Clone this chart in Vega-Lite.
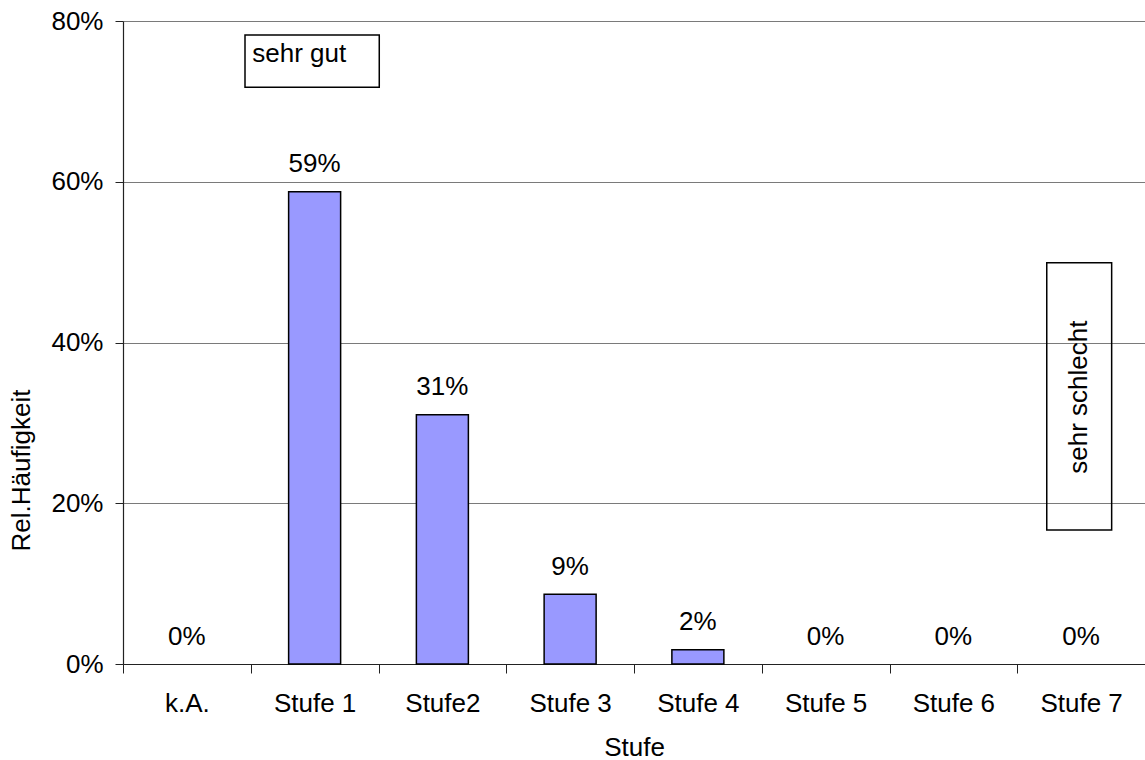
{
  "$schema": "https://vega.github.io/schema/vega-lite/v6.json",
  "width": 1022,
  "height": 643,
  "autosize": "none",
  "padding": {"left": 123, "top": 21, "right": 0, "bottom": 96},
  "background": "#ffffff",
  "config": {
    "font": "Liberation Sans",
    "view": {"stroke": null},
    "axis": {
      "labelFont": "Liberation Sans",
      "titleFont": "Liberation Sans",
      "labelFontSize": 26,
      "titleFontSize": 26,
      "titleFontWeight": "normal",
      "labelColor": "#000000",
      "titleColor": "#000000",
      "domainColor": "#222222",
      "domainWidth": 1.2,
      "tickColor": "#222222",
      "tickWidth": 1
    }
  },
  "layer": [
    {
      "data": {
        "values": [
          {"stufe": "k.A.", "anteil": 0},
          {"stufe": "Stufe 1", "anteil": 0.5876},
          {"stufe": "Stufe2", "anteil": 0.3102},
          {"stufe": "Stufe 3", "anteil": 0.0867},
          {"stufe": "Stufe 4", "anteil": 0.0178},
          {"stufe": "Stufe 5", "anteil": 0},
          {"stufe": "Stufe 6", "anteil": 0},
          {"stufe": "Stufe 7", "anteil": 0}
        ]
      },
      "encoding": {
        "x": {
          "field": "stufe",
          "type": "nominal",
          "sort": ["k.A.", "Stufe 1", "Stufe2", "Stufe 3", "Stufe 4", "Stufe 5", "Stufe 6", "Stufe 7"],
          "scale": {"paddingInner": 0, "paddingOuter": 0},
          "axis": {
            "title": "Stufe",
            "labelAngle": 0,
            "tickBand": "extent",
            "tickSize": 9,
            "labelPadding": 17,
            "grid": false,
            "titleY": 91,
            "titleBaseline": "alphabetic"
          }
        },
        "y": {
          "field": "anteil",
          "type": "quantitative",
          "title": "Rel.Häufigkeit",
          "scale": {"domain": [0, 0.8], "nice": false},
          "axis": {
            "values": [0, 0.2, 0.4, 0.6, 0.8],
            "format": ".0%",
            "grid": true,
            "gridColor": "#7a7a7a",
            "gridWidth": 1,
            "tickSize": 8,
            "labelPadding": 12,
            "titleX": -94,
            "titleY": 449,
            "titleAlign": "center",
            "titleBaseline": "alphabetic"
          }
        }
      },
      "layer": [
        {
          "transform": [{"filter": "datum.anteil > 0"}],
          "mark": {
            "type": "bar",
            "fill": "#9999ff",
            "stroke": "#000000",
            "strokeWidth": 1.5,
            "width": {"band": 0.407}
          }
        },
        {
          "mark": {
            "type": "text",
            "baseline": "alphabetic",
            "align": "center",
            "dy": -19.4,
            "fontSize": 26,
            "color": "#000000"
          },
          "encoding": {
            "text": {"field": "anteil", "type": "quantitative", "format": ".0%"}
          }
        }
      ]
    },
    {
      "layer": [
        {
          "data": {
            "values": [
              {"notiz": "sehr gut", "x0": 0.955, "x1": 2.006, "y0": 0.7175, "y1": 0.7826},
              {"notiz": "sehr schlecht", "x0": 7.231, "x1": 7.739, "y0": 0.1667, "y1": 0.4993}
            ]
          },
          "mark": {"type": "rect", "fill": "transparent", "stroke": "#000000", "strokeWidth": 1.5},
          "encoding": {
            "x": {"field": "x0", "type": "quantitative", "scale": {"domain": [0, 8], "nice": false, "zero": false}, "axis": null},
            "x2": {"field": "x1"},
            "y": {"field": "y0", "type": "quantitative", "title": "Rel.Häufigkeit"},
            "y2": {"field": "y1"}
          }
        },
        {
          "data": {"values": [{"notiz": "sehr gut", "x": 1.012, "y": 0.7486}]},
          "mark": {"type": "text", "align": "left", "baseline": "alphabetic", "fontSize": 26, "color": "#000000"},
          "encoding": {
            "x": {"field": "x", "type": "quantitative", "scale": {"domain": [0, 8], "nice": false, "zero": false}, "axis": null},
            "y": {"field": "y", "type": "quantitative", "title": "Rel.Häufigkeit"},
            "text": {"field": "notiz"}
          }
        },
        {
          "data": {"values": [{"notiz": "sehr schlecht", "x": 7.546, "y": 0.332}]},
          "mark": {"type": "text", "align": "center", "baseline": "alphabetic", "angle": 270, "fontSize": 26, "color": "#000000"},
          "encoding": {
            "x": {"field": "x", "type": "quantitative", "scale": {"domain": [0, 8], "nice": false, "zero": false}, "axis": null},
            "y": {"field": "y", "type": "quantitative", "title": "Rel.Häufigkeit"},
            "text": {"field": "notiz"}
          }
        }
      ]
    }
  ],
  "resolve": {"scale": {"x": "independent"}}
}
